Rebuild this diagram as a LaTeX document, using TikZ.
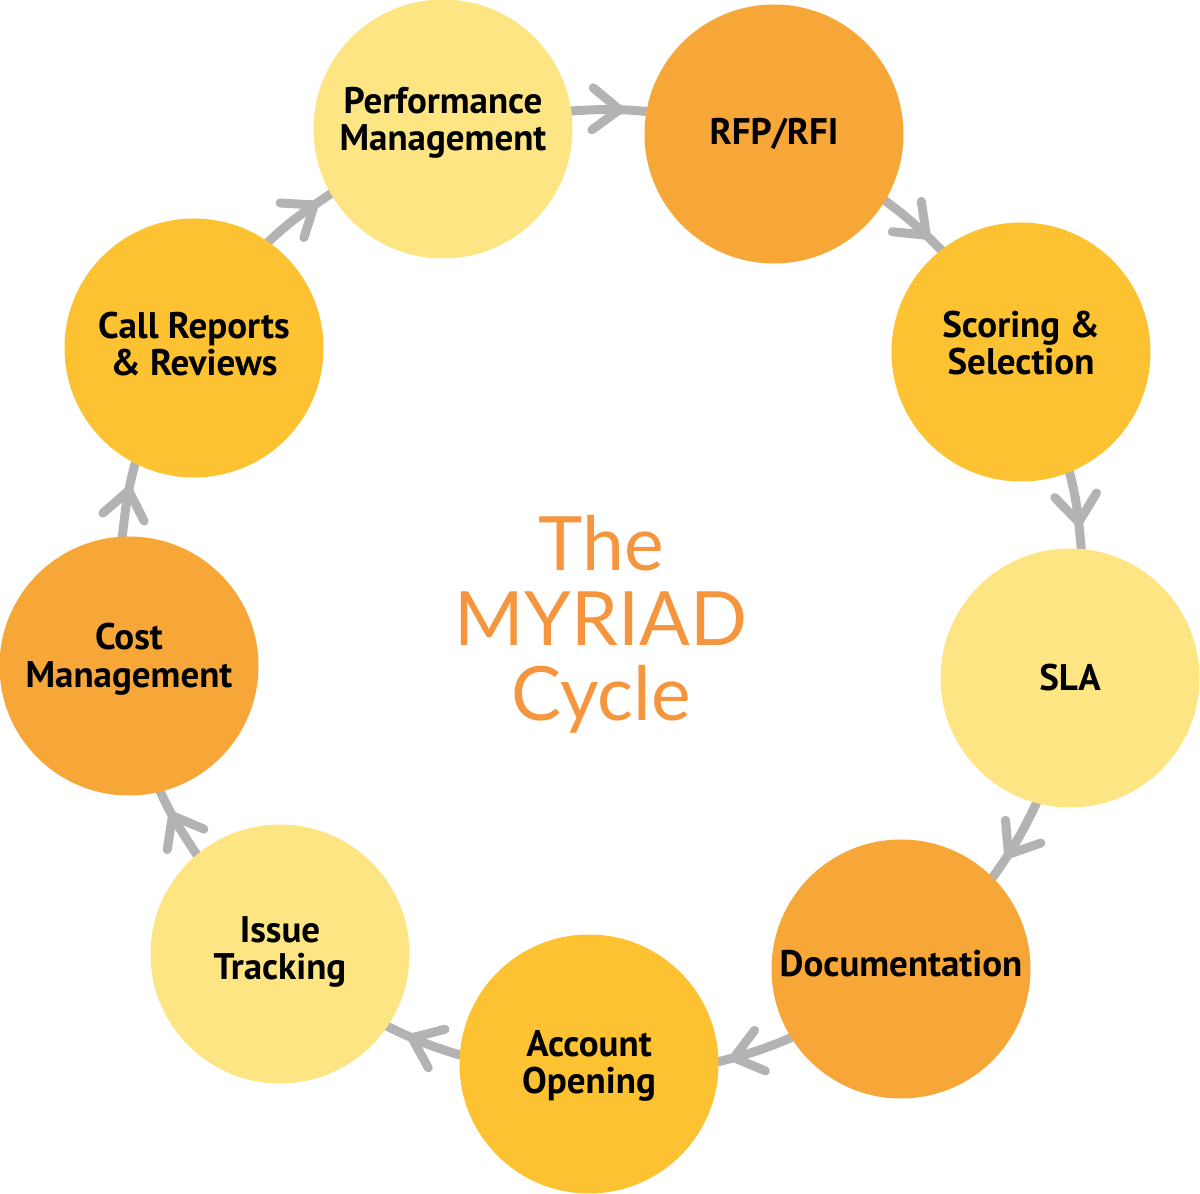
\documentclass[tikz,border=0pt]{standalone}
\usepackage{fontspec}
\setmainfont{PT Sans}
\newfontfamily\labelfont{PT Sans}
\newfontfamily\titlefont{Lato}
\usetikzlibrary{decorations.markings}
\pgfdeclarelayer{background}
\pgfsetlayers{background,main}
\definecolor{lightyel}{HTML}{FDE584}
\definecolor{midorange}{HTML}{F7A738}
\definecolor{gold}{HTML}{FDC232}
\definecolor{arrowgray}{HTML}{B3B3B3}
\definecolor{titleorange}{HTML}{F5953D}
\begin{document}
\begin{tikzpicture}[x=1pt,y=1pt,
  stage/.style={circle, minimum size=259pt, inner sep=0pt, outer sep=0pt},
  stagetext/.style={align=center, inner sep=0pt,
    font={\labelfont\bfseries\fontsize{37}{37.5}\selectfont}, text=black},
  flow/.style={draw=arrowgray, line width=9pt, line cap=round, postaction=decorate,
    decoration={markings, mark=at position -#1 with {
      \draw[arrowgray, line width=9pt, line cap=round, line join=round]
        (-27pt,21pt) -- (0pt,0pt) -- (-27pt,-21pt);}}}]
\useasboundingbox (0,0) rectangle (1200,1194);
\node[stage, fill=lightyel]  (perf)  at (443,1065) {};
\node[stage, fill=midorange] (rfp)   at (774,1060) {};
\node[stage, fill=gold]      (scor)  at (1021,842) {};
\node[stage, fill=lightyel]  (sla)   at (1070,516) {};
\node[stage, fill=midorange] (doc)   at (901,225)  {};
\node[stage, fill=gold]      (acct)  at (589,130)  {};
\node[stage, fill=lightyel]  (issue) at (280,240)  {};
\node[stage, fill=midorange] (cost)  at (129,528)  {};
\node[stage, fill=gold]      (call)  at (194,846)  {};
\node[stagetext] (perf-t)  at ([yshift=6pt]perf.center)  {Performance\\Management};
\node[stagetext] (rfp-t)   at ([yshift=0pt]rfp.center)   {RFP/RFI};
\node[stagetext] (scor-t)  at ([yshift=9pt]scor.center)  {Scoring \&\\Selection};
\node[stagetext] (sla-t)   at ([yshift=0pt]sla.center)   {SLA};
\node[stagetext] (doc-t)   at ([yshift=5pt]doc.center)   {Documentation};
\node[stagetext] (acct-t)  at ([yshift=-2pt]acct.center) {Account\\Opening};
\node[stagetext] (issue-t) at ([yshift=2pt]issue.center) {Issue\\Tracking};
\node[stagetext] (cost-t)  at ([yshift=7pt]cost.center)  {Cost\\Management};
\node[stagetext] (call-t)  at ([yshift=4pt]call.center)  {Call Reports\\\& Reviews};
\node[font={\titlefont\fontsize{75}{75}\selectfont}, text=titleorange, align=center,
  inner sep=0pt] (title) at (601,570) {The\\MYRIAD\\Cycle};
\begin{pgfonlayer}{background}
\draw[flow=27pt] (perf.8)     to[out=3.4,   in=174.5]  (rfp.170.3);
\draw[flow=21pt] (rfp.-31.9)  to[out=-36.1, in=135.2]  (scor.128.4);
\draw[flow=27pt] (scor.-68.8) to[out=-75.6, in=95.2]   (sla.85.1);
\draw[flow=28pt] (sla.-105.6) to[out=-115.7,in=54.1]   (doc.45.8);
\draw[flow=16pt] (doc.-148.4) to[out=-156.7,in=14.2]   (acct.1.2);
\draw[flow=27pt] (acct.176.1) to[out=163.2, in=-25.9]  (issue.-34);
\draw[flow=27pt] (issue.130.9) to[out=122.7,in=-65.7]  (cost.-76.3);
\draw[flow=28pt] (cost.93.9)  to[out=83.3,  in=-105.6] (call.-117.2);
\draw[flow=20pt] (call.55)    to[out=43.4,  in=214]    (perf.-150.6);
\end{pgfonlayer}
\end{tikzpicture}
\end{document}
